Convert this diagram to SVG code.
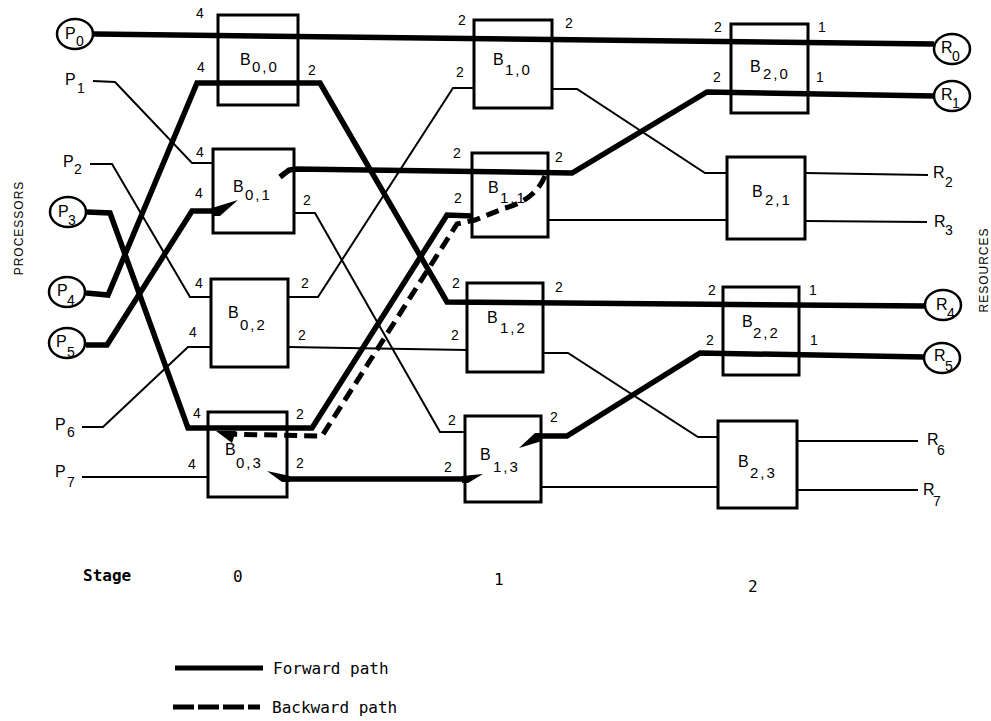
<svg xmlns="http://www.w3.org/2000/svg" width="991" height="721" viewBox="0 0 991 721">
<style>
.box{fill:none;stroke:#000;stroke-width:3}
.thin{fill:none;stroke:#000;stroke-width:2}
.thick{fill:none;stroke:#000;stroke-width:5.5;stroke-linejoin:miter}
.dash{fill:none;stroke:#000;stroke-width:5;stroke-dasharray:13 7}
.head{fill:#000;stroke:none}
.circ{fill:#fff;stroke:#000;stroke-width:2.5}
text{font-family:"Liberation Sans",Arial,sans-serif;fill:#000}
.bl{font-size:16px}
.bs{font-size:15px;letter-spacing:2px}
.pt{font-size:14px;text-anchor:middle}
.nl{font-size:16px}
.ns{font-size:14px}
.mono{font-family:"DejaVu Sans Mono",monospace;font-size:16px}
.vert{font-size:12px;letter-spacing:1px;text-anchor:middle}
</style>
<rect width="991" height="721" fill="#fff"/>
<g id="connectors">
  <polyline class="thin" points="93,81 115,82 192,163 213,163"/>
  <polyline class="thin" points="90,164 112,164 190,297 211,297"/>
  <polyline class="thin" points="82,427 103,427 188,347 211,347"/>
  <polyline class="thin" points="82,477 208,477"/>
  <polyline class="thin" points="294,213 315,213 440,432 465,432"/>
  <polyline class="thin" points="288,297 318,297 453,88 474,88"/>
  <polyline class="thin" points="288,347 467,350"/>
  <polyline class="thin" points="552,89 577,89 705,173 727,173"/>
  <polyline class="thin" points="548,220 727,220"/>
  <polyline class="thin" points="543,353 568,353 698,437 718,437"/>
  <polyline class="thin" points="541,487 718,487"/>
  <polyline class="thin" points="805,173 928,175"/>
  <polyline class="thin" points="805,221 927,222"/>
  <polyline class="thin" points="797,441 918,441"/>
  <polyline class="thin" points="797,490 918,490"/>
  <polyline class="thick" points="94,34 934,44"/>
  <polyline class="thick" points="86,293 108,295 197,83 320,83 447,302 925,306"/>
  <polyline class="thick" points="86,345 107,345 192,211 214,211"/>
  <polygon class="head" points="212,208 238,200 220,216 212,216"/>
  <polyline class="thick" points="280,177 289,170 296,169 572,173 707,92 934,96"/>
  <polyline class="thick" points="87,212 110,213 188,428 312,428 447,215 473,216"/>
  <polyline class="thick" points="284,479 468,479"/>
  <polygon class="head" points="267,471 290,476 290,482 282,482"/>
  <polygon class="head" points="462,476 483,474 468,483 462,483"/>
  <polyline class="thick" points="539,436 567,436 700,353 924,357"/>
  <polygon class="head" points="519,448 535,433 542,433 542,441"/>
  <path class="dash" d="M545,176 Q535,200 505,208 L475,220 L457,224 L322,436 L220,434"/>
  <polygon class="head" points="216,431 236,431 232,443"/>
</g>
<g id="B00"><rect class="box" x="218" y="15" width="80" height="90"/><text class="bl" x="240" y="65">B</text><text class="bs" x="252" y="72">0,0</text></g>
<g id="B01"><rect class="box" x="213" y="149" width="81" height="84"/><text class="bl" x="233" y="192">B</text><text class="bs" x="245" y="200">0,1</text></g>
<g id="B02"><rect class="box" x="211" y="279" width="77" height="88"/><text class="bl" x="228" y="318">B</text><text class="bs" x="240" y="330">0,2</text></g>
<g id="B03"><rect class="box" x="208" y="412" width="79" height="85"/><text class="bl" x="225" y="455">B</text><text class="bs" x="236" y="468">0,3</text></g>
<g id="B10"><rect class="box" x="474" y="20" width="78" height="88"/><text class="bl" x="493" y="65">B</text><text class="bs" x="505" y="75">1,0</text></g>
<g id="B11"><rect class="box" x="472" y="153" width="76" height="84"/><text class="bl" x="488" y="193">B</text><text class="bs" x="500" y="203">1,1</text></g>
<g id="B12"><rect class="box" x="467" y="283" width="76" height="89"/><text class="bl" x="487" y="323">B</text><text class="bs" x="500" y="333">1,2</text></g>
<g id="B13"><rect class="box" x="465" y="416" width="76" height="86"/><text class="bl" x="480" y="460">B</text><text class="bs" x="493" y="472">1,3</text></g>
<g id="B20"><rect class="box" x="731" y="24" width="77" height="89"/><text class="bl" x="750" y="72">B</text><text class="bs" x="763" y="79">2,0</text></g>
<g id="B21"><rect class="box" x="727" y="157" width="78" height="82"/><text class="bl" x="752" y="197">B</text><text class="bs" x="765" y="205">2,1</text></g>
<g id="B22"><rect class="box" x="723" y="287" width="76" height="88"/><text class="bl" x="742" y="327">B</text><text class="bs" x="753" y="338">2,2</text></g>
<g id="B23"><rect class="box" x="718" y="421" width="79" height="87"/><text class="bl" x="738" y="467">B</text><text class="bs" x="750" y="478">2,3</text></g>
<g id="ports">
  <text class="pt" x="200" y="18">4</text><text class="pt" x="201" y="72">4</text><text class="pt" x="312" y="75">2</text>
  <text class="pt" x="200" y="157">4</text><text class="pt" x="199" y="198">4</text><text class="pt" x="307" y="205">2</text>
  <text class="pt" x="199" y="288">4</text><text class="pt" x="305" y="288">2</text><text class="pt" x="193" y="337">4</text><text class="pt" x="302" y="340">2</text>
  <text class="pt" x="197" y="418">4</text><text class="pt" x="300" y="419">2</text><text class="pt" x="192" y="469">4</text><text class="pt" x="300" y="468">2</text>
  <text class="pt" x="462" y="25">2</text><text class="pt" x="569" y="28">2</text><text class="pt" x="460" y="77">2</text>
  <text class="pt" x="457" y="158">2</text><text class="pt" x="559" y="162">2</text><text class="pt" x="458" y="203">2</text>
  <text class="pt" x="456" y="288">2</text><text class="pt" x="559" y="292">2</text><text class="pt" x="455" y="340">2</text>
  <text class="pt" x="452" y="425">2</text><text class="pt" x="554" y="422">2</text><text class="pt" x="448" y="472">2</text>
  <text class="pt" x="718" y="32">2</text><text class="pt" x="822" y="32">1</text><text class="pt" x="717" y="82">2</text><text class="pt" x="820" y="82">1</text>
  <text class="pt" x="712" y="295">2</text><text class="pt" x="813" y="295">1</text><text class="pt" x="710" y="345">2</text><text class="pt" x="814" y="345">1</text>
</g>
<g id="P0"><ellipse class="circ" cx="75" cy="34" rx="18" ry="15"/><text class="nl" x="65" y="39">P</text><text class="ns" x="76" y="46">0</text></g>
<g id="P1"><text class="nl" x="65" y="85">P</text><text class="ns" x="77" y="93">1</text></g>
<g id="P2"><text class="nl" x="63" y="167">P</text><text class="ns" x="74" y="174">2</text></g>
<g id="P3"><ellipse class="circ" cx="68" cy="212" rx="18" ry="15"/><text class="nl" x="58" y="217">P</text><text class="ns" x="68" y="225">3</text></g>
<g id="P4"><ellipse class="circ" cx="67" cy="292" rx="18" ry="15"/><text class="nl" x="57" y="296">P</text><text class="ns" x="67" y="305">4</text></g>
<g id="P5"><ellipse class="circ" cx="67" cy="343" rx="18" ry="15"/><text class="nl" x="56" y="347">P</text><text class="ns" x="67" y="357">5</text></g>
<g id="P6"><text class="nl" x="55" y="430">P</text><text class="ns" x="67" y="437">6</text></g>
<g id="P7"><text class="nl" x="55" y="477">P</text><text class="ns" x="67" y="487">7</text></g>
<g id="R0"><ellipse class="circ" cx="952" cy="49" rx="18" ry="15"/><text class="nl" x="941" y="53">R</text><text class="ns" x="952" y="61">0</text></g>
<g id="R1"><ellipse class="circ" cx="952" cy="96" rx="18" ry="15"/><text class="nl" x="941" y="100">R</text><text class="ns" x="952" y="108">1</text></g>
<g id="R2"><text class="nl" x="933" y="178">R</text><text class="ns" x="945" y="187">2</text></g>
<g id="R3"><text class="nl" x="934" y="227">R</text><text class="ns" x="945" y="235">3</text></g>
<g id="R4"><ellipse class="circ" cx="943" cy="305" rx="18" ry="15"/><text class="nl" x="936" y="310">R</text><text class="ns" x="947" y="318">4</text></g>
<g id="R5"><ellipse class="circ" cx="942" cy="358" rx="18" ry="15"/><text class="nl" x="934" y="361">R</text><text class="ns" x="945" y="371">5</text></g>
<g id="R6"><text class="nl" x="927" y="445">R</text><text class="ns" x="937" y="455">6</text></g>
<g id="R7"><text class="nl" x="923" y="495">R</text><text class="ns" x="933" y="506">7</text></g>
<text class="vert" transform="translate(23,228) rotate(-90)">PROCESSORS</text>
<text class="vert" transform="translate(988,270) rotate(-90)">RESOURCES</text>
<text class="mono" x="83" y="581" font-weight="bold">Stage</text>
<text class="mono" x="233" y="582">0</text>
<text class="mono" x="494" y="585">1</text>
<text class="mono" x="748" y="592">2</text>
<g id="legend">
  <line x1="175" y1="668" x2="263" y2="668" stroke="#000" stroke-width="5"/>
  <text class="mono" x="273" y="674">Forward path</text>
  <line x1="173" y1="707" x2="260" y2="707" stroke="#000" stroke-width="5" stroke-dasharray="21 4"/>
  <text class="mono" x="272" y="713">Backward path</text>
</g>
</svg>
